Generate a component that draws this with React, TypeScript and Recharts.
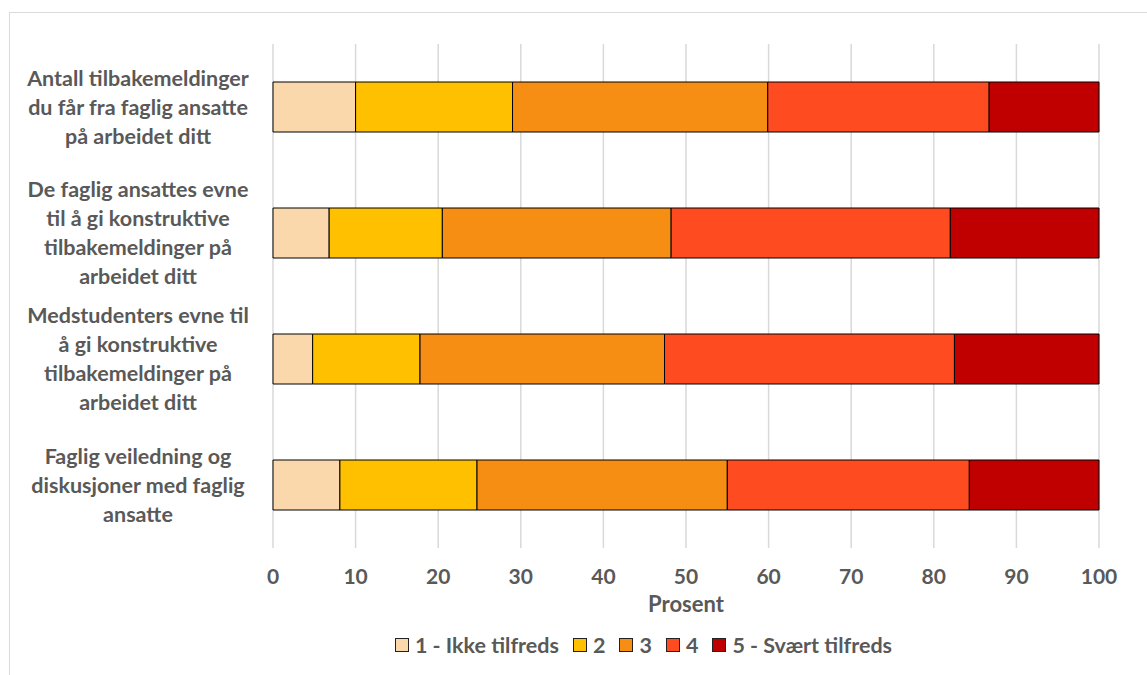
import { BarChart, Bar, XAxis, YAxis, CartesianGrid } from 'recharts';

const categories = [
    "Antall tilbakemeldinger du får fra faglig ansatte på arbeidet ditt",
    "De faglig ansattes evne til å gi konstruktive tilbakemeldinger på arbeidet ditt",
    "Medstudenters evne til å gi konstruktive tilbakemeldinger på arbeidet ditt",
    "Faglig veiledning og diskusjoner med faglig ansatte",
];

// how each category label is broken over lines
const categoryLines = [
    ["Antall tilbakemeldinger", "du får fra faglig ansatte", "på arbeidet ditt"],
    ["De faglig ansattes evne", "til å gi konstruktive", "tilbakemeldinger på", "arbeidet ditt"],
    ["Medstudenters evne til", "å gi konstruktive", "tilbakemeldinger på", "arbeidet ditt"],
    ["Faglig veiledning og", "diskusjoner med faglig", "ansatte"],
];

const seriesNames = ["1 - Ikke tilfreds", "2", "3", "4", "5 - Svært tilfreds"];
const seriesColors = ["#FBD8AC", "#FFC000", "#F58E12", "#FF4B20", "#C00000"];

const s1 = [10.0, 6.8, 4.8, 8.1];
const s2 = [19.0, 13.7, 13.0, 16.6];
const s3 = [30.9, 27.7, 29.6, 30.3];
const s4 = [26.8, 33.8, 35.1, 29.3];
const s5 = [13.3, 18.0, 17.5, 15.7];

const xTicks = [0, 10, 20, 30, 40, 50, 60, 70, 80, 90, 100];

const seriesValues = [s1, s2, s3, s4, s5];
const data = categories.map((name, i) => {
    const row: Record<string, any> = { name };
    seriesValues.forEach((vals, k) => { row["s" + k] = vals[i]; });
    return row;
});

const FONT = "Lato, 'Open Sans', sans-serif";
const GREY = "#595959";

const CategoryTick = ({ y, payload }: any) => {
    const idx = categories.indexOf(payload.value);
    const lines = categoryLines[idx] || [payload.value];
    const lh = 29;
    const start = y - ((lines.length - 1) * lh) / 2;
    return (
        <text x={138} y={start} textAnchor="middle" fill={GREY}
            style={{ fontFamily: FONT, fontWeight: 700, fontSize: 21.5 }}>
            {lines.map((l, i) => (
                <tspan key={i} x={138} y={start + i * lh} dy="0.35em">{l}</tspan>
            ))}
        </text>
    );
};

const ChartLegend = () => (
    <div style={{ position: 'absolute', left: 70, top: 632, width: 1147, display: 'flex', justifyContent: 'center', alignItems: 'center', fontFamily: FONT, fontWeight: 700, fontSize: 21.5, color: GREY }}>
        {seriesNames.map((n, i) => (
            <div key={n} style={{ display: 'flex', alignItems: 'center', marginRight: i < seriesNames.length - 1 ? 14 : 0 }}>
                <span style={{ width: 12, height: 12, background: seriesColors[i], border: '1px solid #222', marginRight: 6 }} />
                <span>{n}</span>
            </div>
        ))}
    </div>
);

export default function App() {
    return (
        <div style={{ position: 'absolute', left: 0, top: 0, width: 1147, height: 675, background: '#fff', overflow: 'hidden' }}>
            <div style={{ position: 'absolute', left: 9, top: 12, width: 1160, height: 700, border: '1px solid #d9d9d9' }} />
            <BarChart
                width={1147}
                height={675}
                data={data}
                layout="vertical"
                barSize={50}
                margin={{ top: 44, right: 48, left: 10, bottom: 0 }}
                style={{ position: 'absolute', left: 0, top: 0 }}
            >
                <CartesianGrid horizontal={false} stroke="#d9d9d9" strokeWidth={1.5} />
                <XAxis
                    type="number"
                    domain={[0, 100]}
                    ticks={xTicks}
                    axisLine={false}
                    tickLine={false}
                    tickMargin={15}
                    height={127}
                    tick={{ fill: GREY, fontFamily: FONT, fontWeight: 700, fontSize: 21 }}
                    label={{ value: "Prosent", position: "insideTop", offset: 48, fill: GREY, fontFamily: FONT, fontWeight: 700, fontSize: 22 }}
                />
                <YAxis
                    type="category"
                    dataKey="name"
                    width={263}
                    axisLine={false}
                    tickLine={false}
                    tick={<CategoryTick />}
                    interval={0}
                />
                {seriesNames.map((n, k) => (
                    <Bar key={n} name={n} dataKey={"s" + k} stackId="a" fill={seriesColors[k]}
                        stroke="#000" strokeWidth={1} isAnimationActive={false} />
                ))}
            </BarChart>
            <ChartLegend />
        </div>
    );
}
